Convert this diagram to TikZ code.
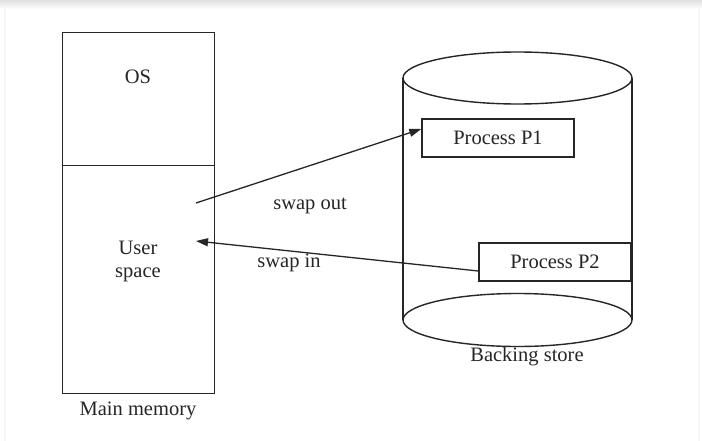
\documentclass[tikz,border=0pt]{standalone}
\usepackage{fontspec}
\setmainfont{Liberation Serif}
\usetikzlibrary{arrows.meta}
\begin{document}
\begin{tikzpicture}[x=1pt,y=-1pt,
  ink/.style={draw=black!85,line width=1.4pt},
  lbl/.style={text=black!85,font=\fontsize{20.5}{23}\selectfont,inner sep=0pt},
  procbox/.style={ink,minimum width=152pt,minimum height=38pt,inner sep=0pt,
    font=\fontsize{20.5}{23}\selectfont,text=black!85},
  swaparrow/.style={draw=black!85,line width=1.3pt,-{Triangle[length=12pt,width=8pt]}}]
  % page card with a soft shadow along the top
  \useasboundingbox (0,0) rectangle (702,441);
  \fill[white] (0,0) rectangle (702,441);
  \shade[top color=black!12,bottom color=white] (0,0) rectangle (702,9);
  \fill[black!3] (4,9) rectangle (6,441);
  \fill[black!3] (698,9) rectangle (700,441);

  % main memory
  \node[ink,minimum width=152pt,minimum height=133pt,inner sep=0pt,anchor=north west] (os) at (62,32) {};
  \node[ink,minimum width=152pt,minimum height=228pt,inner sep=0pt,anchor=north west] (user) at (62,165) {};
  \node[lbl] (ostxt) at (138,77) {OS};
  \node[lbl,align=center] (usertxt) at (138,261) {User\\space};
  \node[lbl] (mmtxt) at (138,411) {Main memory};

  % backing store drum
  \draw[ink] (403,78) -- (403,320);
  \draw[ink] (632,78) -- (632,320);
  \fill[white] (517.5,320) ellipse [x radius=114.5,y radius=26.5];
  \draw[ink] (517.5,320) ellipse [x radius=114.5,y radius=26.5];
  \draw[ink] (517.5,78) ellipse [x radius=114.5,y radius=26];
  \node[lbl] (bstxt) at (527,357) {Backing store};

  % processes on the backing store
  \node[procbox] (p1) at (498,138) {Process P1};
  \node[procbox] (p2) at (555,262) {Process P2};

  % swapping
  \coordinate (outstart) at (196,203);
  \coordinate (inend) at (196,241);
  \draw[swaparrow] (outstart) -- ([yshift=9pt]p1.west);
  \draw[swaparrow] ([yshift=-9pt]p2.west) -- (inend);
  \node[lbl] (outtxt) at (310,206) {swap out};
  \node[lbl] (intxt) at (289,263) {swap in};
\end{tikzpicture}
\end{document}
